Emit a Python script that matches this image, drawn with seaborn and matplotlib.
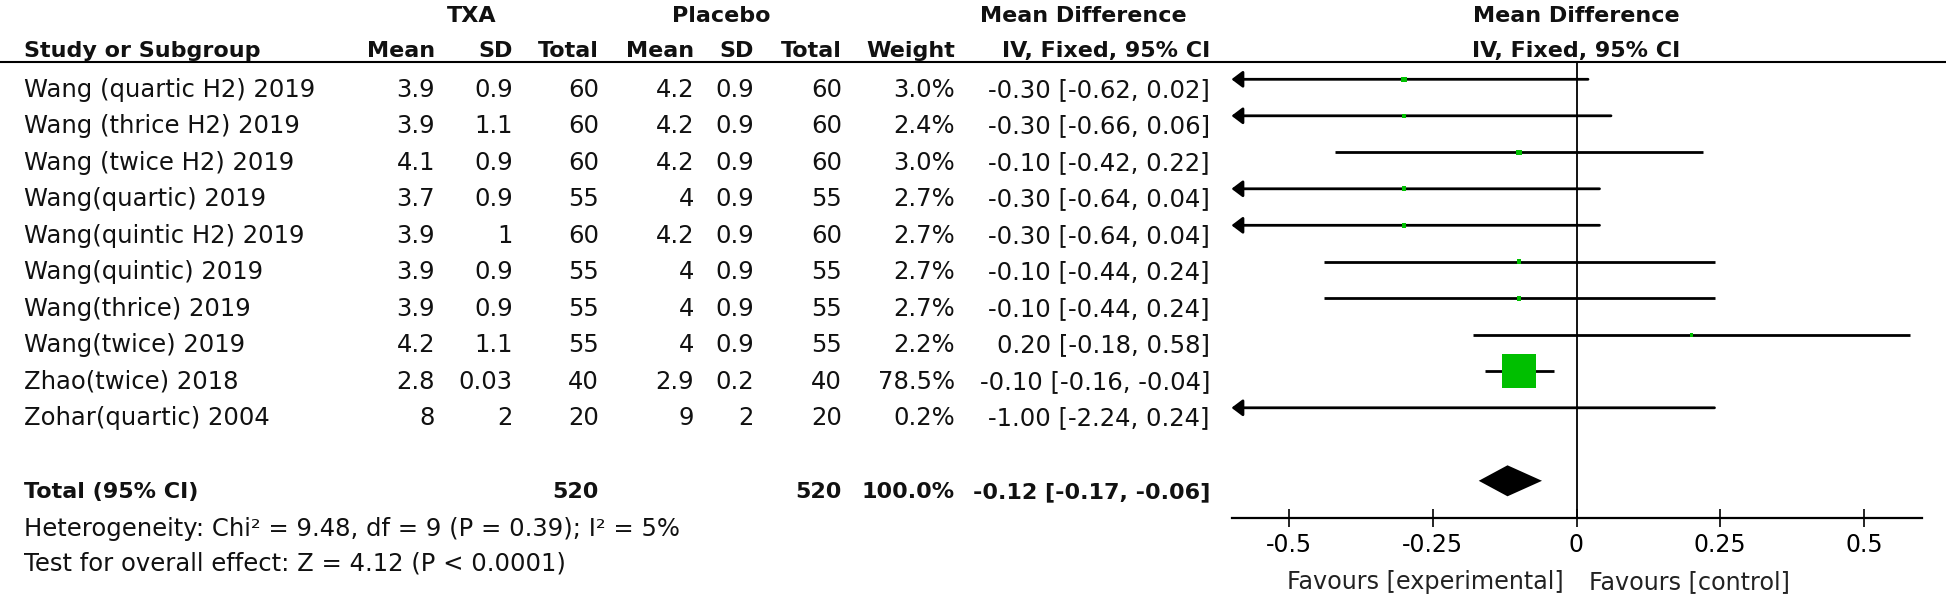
import matplotlib
matplotlib.use('Agg')
import matplotlib.pyplot as plt
from matplotlib.colors import Normalize
from matplotlib.ticker import FuncFormatter
import seaborn as sns

studies = ["Wang (quartic H2) 2019", "Wang (thrice H2) 2019", "Wang (twice H2) 2019",
           "Wang(quartic) 2019", "Wang(quintic H2) 2019", "Wang(quintic) 2019",
           "Wang(thrice) 2019", "Wang(twice) 2019", "Zhao(twice) 2018", "Zohar(quartic) 2004"]
txa_mean = [3.9, 3.9, 4.1, 3.7, 3.9, 3.9, 3.9, 4.2, 2.8, 8]
txa_sd = [0.9, 1.1, 0.9, 0.9, 1, 0.9, 0.9, 1.1, 0.03, 2]
txa_n = [60, 60, 60, 55, 60, 55, 55, 55, 40, 20]
pla_mean = [4.2, 4.2, 4.2, 4, 4.2, 4, 4, 4, 2.9, 9]
pla_sd = [0.9, 0.9, 0.9, 0.9, 0.9, 0.9, 0.9, 0.9, 0.2, 2]
pla_n = [60, 60, 60, 55, 60, 55, 55, 55, 40, 20]
weight = [3.0, 2.4, 3.0, 2.7, 2.7, 2.7, 2.7, 2.2, 78.5, 0.2]
md = [-0.30, -0.30, -0.10, -0.30, -0.30, -0.10, -0.10, 0.20, -0.10, -1.00]
ci_low = [-0.62, -0.66, -0.42, -0.64, -0.64, -0.44, -0.44, -0.18, -0.16, -2.24]
ci_high = [0.02, 0.06, 0.22, 0.04, 0.04, 0.24, 0.24, 0.58, -0.04, 0.24]

total_n = [520, 520]
total_weight = 100.0
total_md = -0.12
total_ci = [-0.17, -0.06]
heterogeneity = "Heterogeneity: Chi\u00b2 = 9.48, df = 9 (P = 0.39); I\u00b2 = 5%"
overall = "Test for overall effect: Z = 4.12 (P < 0.0001)"
xticks = [-0.5, -0.25, 0, 0.25, 0.5]

sns.set_style('white')
plt.rcParams['font.family'] = ['DejaVu Sans']

W, H = 1946, 594
ROW0, ROWH = 79.3, 36.5   # pixel y of first row and row height


def row(px):
    return (px - ROW0) / ROWH


fig = plt.figure(figsize=(W / 100, H / 100), dpi=100)

# table area, x in pixels, y in rows
tab = fig.add_axes([0, 0, 1, 1])
tab.set_xlim(0, W)
tab.set_ylim(row(H), row(0))
tab.axis('off')

REG, BOLD = 17.5, 16
ink = '#111111'

def put(x, y, s, ha='right', bold=False):
    tab.text(x, y, s, ha=ha, va='baseline', color=ink,
             fontsize=BOLD if bold else REG, fontweight='bold' if bold else 'normal')

cols = [435, 513, 599, 694, 754, 842, 955, 1210]

# headers
hy1, hy2 = row(21.7), row(57.3)
put(472, hy1, 'TXA', ha='center', bold=True)
put(721, hy1, 'Placebo', ha='center', bold=True)
put(1083, hy1, 'Mean Difference', ha='center', bold=True)
put(1576, hy1, 'Mean Difference', ha='center', bold=True)
put(24, hy2, 'Study or Subgroup', ha='left', bold=True)
for x, s in zip(cols, ['Mean', 'SD', 'Total', 'Mean', 'SD', 'Total', 'Weight', 'IV, Fixed, 95% CI']):
    put(x, hy2, s, bold=True)
put(1576, hy2, 'IV, Fixed, 95% CI', ha='center', bold=True)
tab.axhline(row(61.7), color='black', lw=1.5)

# study rows
base = 0.477
for i, name in enumerate(studies):
    y = i + base
    put(24, y, name, ha='left')
    vals = [f"{txa_mean[i]:g}", f"{txa_sd[i]:g}", f"{txa_n[i]}",
            f"{pla_mean[i]:g}", f"{pla_sd[i]:g}", f"{pla_n[i]}",
            f"{weight[i]:.1f}%", f"{md[i]:.2f} [{ci_low[i]:.2f}, {ci_high[i]:.2f}]"]
    for x, s in zip(cols, vals):
        put(x, y, s)

# total row
ty = len(studies) + 1
put(24, ty + base, 'Total (95% CI)', ha='left', bold=True)
put(cols[2], ty + base, str(total_n[0]), bold=True)
put(cols[5], ty + base, str(total_n[1]), bold=True)
put(cols[6], ty + base, f"{total_weight:.1f}%", bold=True)
put(cols[7], ty + base, f"{total_md:.2f} [{total_ci[0]:.2f}, {total_ci[1]:.2f}]", bold=True)
put(24, row(536), heterogeneity, ha='left')
put(24, row(570), overall, ha='left')

# forest panel
XMIN, XMAX = -0.6, 0.6
x0, x1 = 1231.5, 1921.5
ytop, ybot = 61.7, 517.7
ax = fig.add_axes([x0 / W, 1 - ybot / H, (x1 - x0) / W, (ybot - ytop) / H])
ax.set_xlim(XMIN, XMAX)
ax.set_ylim(row(ybot), row(ytop))
ax.patch.set_alpha(0)
for side in ['top', 'left', 'right']:
    ax.spines[side].set_visible(False)
ax.spines['bottom'].set_linewidth(1.6)
ax.spines['bottom'].set_color('black')
ax.set_yticks([])
ax.set_xticks(xticks)
ax.xaxis.set_major_formatter(FuncFormatter(lambda v, p: f"{v:g}"))
ax.tick_params(axis='x', direction='inout', length=13.5, width=1.2, pad=4.5,
               labelsize=17, colors='black', bottom=True)
ax.axvline(0, color='black', lw=1.3)

for i in range(len(studies)):
    if ci_low[i] < XMIN:
        ax.annotate('', xy=(XMIN, i), xytext=(ci_high[i], i),
                    arrowprops=dict(arrowstyle='-|>,head_length=0.33,head_width=0.25',
                                    color='black', lw=2, shrinkA=0, shrinkB=0,
                                    mutation_scale=20))
    else:
        ax.hlines(i, ci_low[i], ci_high[i], color='black', lw=2)

sns.scatterplot(x=md, y=list(range(len(studies))), size=weight, sizes=(8, 600),
                size_norm=Normalize(2.2, 78.5, clip=True), marker='s',
                color='#00bf00', linewidth=0, legend=False, ax=ax, zorder=3)

dh = 15.5 / ROWH
ax.fill([total_ci[0], total_md, total_ci[1], total_md], [ty, ty - dh, ty, ty + dh],
        color='black', lw=0, zorder=3)

tab.text(1564, row(589), 'Favours [experimental]', ha='right', va='baseline',
         fontsize=17.2, color='#222222')
tab.text(1589, row(589), 'Favours [control]', ha='left', va='baseline',
         fontsize=17.2, color='#222222')

fig.savefig('out.png', dpi=100)
